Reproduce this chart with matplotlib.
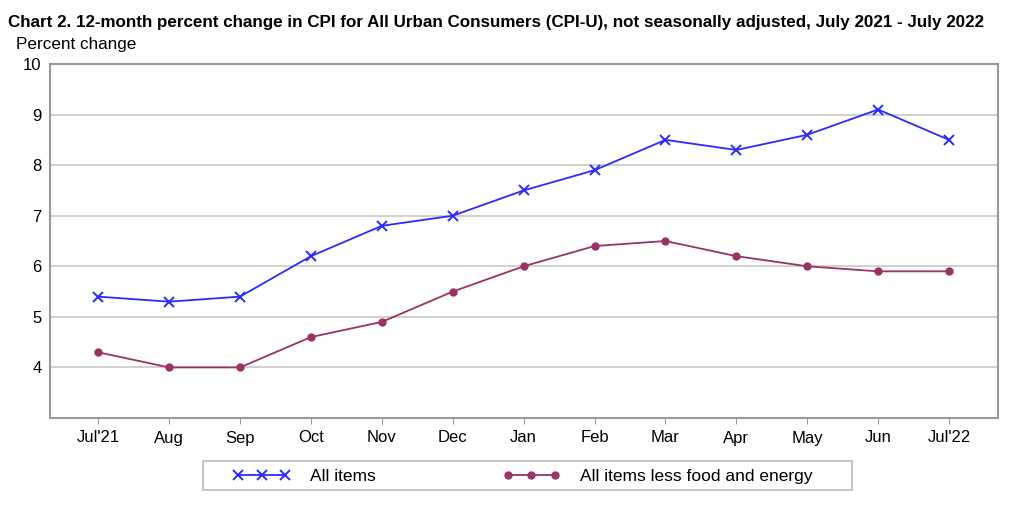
import matplotlib
matplotlib.use("Agg")
import matplotlib.pyplot as plt
from matplotlib.patches import Rectangle

months = ["Jul'21", "Aug", "Sep", "Oct", "Nov", "Dec", "Jan", "Feb", "Mar", "Apr", "May", "Jun", "Jul'22"]
all_items = [5.4, 5.3, 5.4, 6.2, 6.8, 7.0, 7.5, 7.9, 8.5, 8.3, 8.6, 9.1, 8.5]
core = [4.3, 4.0, 4.0, 4.6, 4.9, 5.5, 6.0, 6.4, 6.5, 6.2, 6.0, 5.9, 5.9]
yticks = [4, 5, 6, 7, 8, 9, 10]

plt.rcParams['font.family'] = ['Liberation Sans', 'DejaVu Sans']

fig = plt.figure(figsize=(10.24, 5.07), dpi=100)
ax = fig.add_axes([50/1024, 1-418/507, 948/1024, 354/507])

x = list(range(len(months)))
l1, = ax.plot(x, all_items, color='#2a2aff', lw=1.3, marker='x', ms=7, mew=1.4, label='All items', zorder=3)
l2, = ax.plot(x, core, color='#993366', lw=1.3, marker='o', ms=5, label='All items less food and energy', zorder=3)

ax.set_xlim(-0.68, 12.69)
ax.set_ylim(3, 10)
ax.set_yticks(yticks)
ax.set_yticklabels([str(v) for v in yticks], fontsize=12)
ax.set_xticks(x)
ax.set_xticklabels(months, fontsize=12)
ax.tick_params(axis='y', length=0, pad=6)
ax.tick_params(axis='x', length=4, color='#999999', pad=5)
ax.yaxis.grid(True, color='#c8c8c8', lw=1.2)
ax.set_axisbelow(True)
for s in ax.spines.values():
    s.set_color('#999999')
    s.set_linewidth(1.5)

fig.text(8/1024, 1-23/507, "Chart 2. 12-month percent change in CPI for All Urban Consumers (CPI-U), not seasonally adjusted, July 2021 - July 2022",
         fontsize=12.25, fontweight='bold', va='center', ha='left')
fig.text(16/1024, 1-45/507, "Percent change", fontsize=12.3, va='center', ha='left')

fig.patches.append(Rectangle((203/1024, 1-490/507), 649/1024, 29/507, transform=fig.transFigure,
                             facecolor='white', edgecolor='#bbbbbb', lw=1.2, zorder=0))

leg = fig.legend(handles=[l1, l2], loc='center left', bbox_to_anchor=(233/1024, 1-476/507), ncol=2,
                 fontsize=12.5, numpoints=3, handlelength=3.3, columnspacing=7.3, handletextpad=1.15,
                 frameon=False, borderpad=0, borderaxespad=0)

fig.savefig("out.png", dpi=100)
